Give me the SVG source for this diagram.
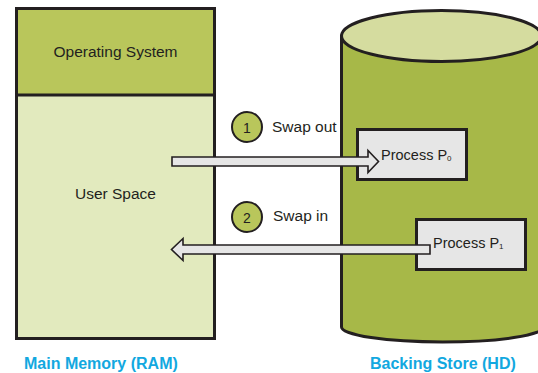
<svg xmlns="http://www.w3.org/2000/svg" width="538" height="373" viewBox="0 0 538 373">
<style>
.ln{stroke:#231f20;stroke-width:3;stroke-linejoin:miter}
.t{font-family:"Liberation Sans",Arial,sans-serif;fill:#231f20}
.cap{font-family:"Liberation Sans",Arial,sans-serif;font-weight:bold;font-size:16px;fill:#12a8e0}
.box{fill:#e6e6e6;stroke:#231f20;stroke-width:3}
.arr{fill:#e6e6e6;stroke:#231f20;stroke-width:1.6;stroke-linejoin:miter}
.num{fill:#b9c65b;stroke:#231f20;stroke-width:2}
</style>
<rect width="538" height="373" fill="#ffffff"/>
<g id="main-memory">
<rect x="16.5" y="8.5" width="198" height="87" fill="#b9c65b"/>
<rect x="16.5" y="95" width="198" height="243.5" fill="#e2eabe"/>
<rect x="16.5" y="8.5" width="198" height="330" fill="none" class="ln"/>
<line x1="16.5" y1="95" x2="214.5" y2="95" class="ln"/>
<text class="t" x="115.5" y="57" font-size="15.5" text-anchor="middle">Operating System</text>
<text class="t" x="115.5" y="199" font-size="15.5" text-anchor="middle">User Space</text>
<text class="cap" x="24" y="369">Main Memory (RAM)</text>
</g>
<g id="backing-store">
<path d="M341.5,36 L341.5,327 A101,15 0 0 0 543.5,327 L543.5,36 Z" fill="#a7b848" class="ln"/>
<ellipse cx="441.5" cy="36" rx="100" ry="25.5" fill="#d5dc9f" class="ln"/>
<text class="cap" x="370" y="369">Backing Store (HD)</text>
</g>
<g id="process-p0">
<rect x="357.5" y="129.5" width="109" height="50" class="box"/>
<text class="t" x="381" y="160" font-size="14.5">Process P<tspan font-size="8" dy="1">0</tspan></text>
</g>
<g id="process-p1">
<rect x="416.5" y="219.5" width="109" height="50" class="box"/>
<text class="t" x="433" y="248" font-size="14.5">Process P<tspan font-size="8" dy="1">1</tspan></text>
</g>
<g id="step-1">
<circle cx="247" cy="127" r="15" class="num"/>
<text class="t" x="247" y="132.5" font-size="14" text-anchor="middle">1</text>
<text class="t" x="272" y="132" font-size="15.5">Swap out</text>
</g>
<g id="step-2">
<circle cx="247" cy="217" r="15" class="num"/>
<text class="t" x="247" y="222.5" font-size="14" text-anchor="middle">2</text>
<text class="t" x="273" y="221" font-size="15.5">Swap in</text>
</g>
<g id="connectors">
<path class="arr" d="M172,157 L368,157 L368,150.5 L378.5,161.5 L368,172.5 L368,166 L172,166 Z"/>
<path class="arr" d="M430,245 L183,245 L183,238.5 L171.5,249.5 L183,260.5 L183,254 L430,254 Z"/>
</g>
</svg>
